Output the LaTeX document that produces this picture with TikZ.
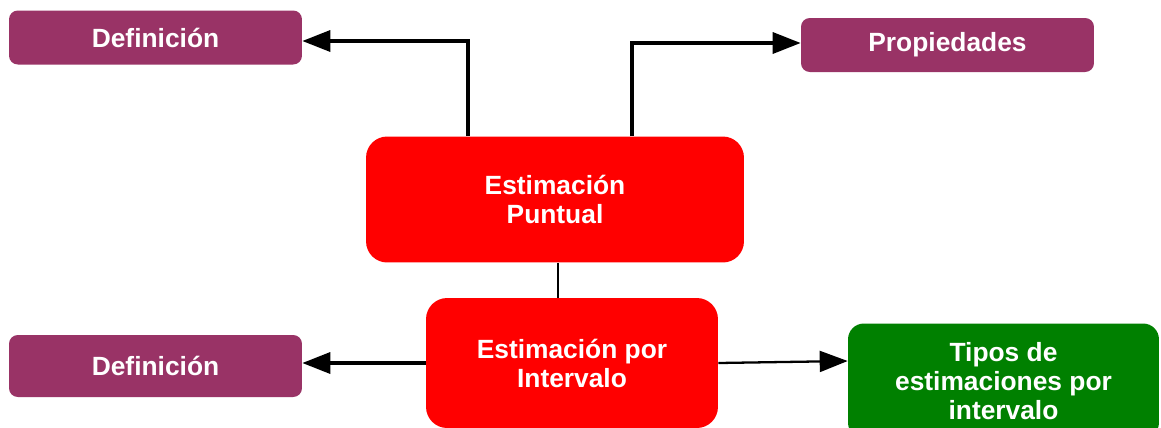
\documentclass[tikz,border=0pt]{standalone}
\usepackage{fontspec}
\setmainfont{Liberation Sans}
\usetikzlibrary{arrows.meta}
\definecolor{morado}{HTML}{993366}
\definecolor{rojo}{HTML}{FF0000}
\definecolor{verde}{HTML}{008000}
\tikzset{
  caja/.style={text=white,font=\fontsize{15}{16.5}\selectfont\bfseries,align=center,inner sep=0pt},
  morada/.style={caja,fill=morado,rounded corners=5pt,minimum width=5.86cm,minimum height=1.08cm},
  roja/.style={caja,fill=rojo,rounded corners=12pt},
  verdecaja/.style={caja,fill=verde,rounded corners=9pt},
  flecha/.style={line width=2pt,-{Triangle[length=0.56cm,width=0.42cm]}},
  linea/.style={line width=0.7pt}
}
\begin{document}
\begin{tikzpicture}[x=0.02cm,y=-0.02cm]
	\useasboundingbox (0,0) rectangle (1161,427);
	% cajas
	\node[morada] (def1) at (155.5,37.5) {Definición};
	\node[morada] (prop) at (947.5,45) {Propiedades};
	\node[roja,minimum width=7.56cm,minimum height=2.52cm] (punt) at (555,199.5) {Estimación\\Puntual};
	\node[roja,minimum width=5.84cm,minimum height=2.6cm] (interv) at (572,363) {Estimación por\\Intervalo};
	\node[morada,minimum height=1.24cm] (def2) at (155.5,366) {Definición};
	\node[verdecaja,minimum width=6.22cm,minimum height=2.3cm] (tipos) at (1003.5,381) {Tipos de\\estimaciones por\\intervalo};
	% conectores
	\draw[flecha] ([xshift=-1.74cm]punt.north) |- ([yshift=-0.07cm]def1.east);
	\draw[flecha] ([xshift=1.54cm]punt.north) |- ([yshift=0.04cm]prop.west);
	\draw[linea] ([xshift=0.06cm]punt.south) -- ([xshift=0.06cm]punt.south |- interv.north);
	\draw[flecha] (interv.west) -- (interv.west -| def2.east);
	\draw[flecha,line width=1.3pt] (interv.east) -- ([yshift=0.04cm]interv.east -| tipos.west);
\end{tikzpicture}
\end{document}
